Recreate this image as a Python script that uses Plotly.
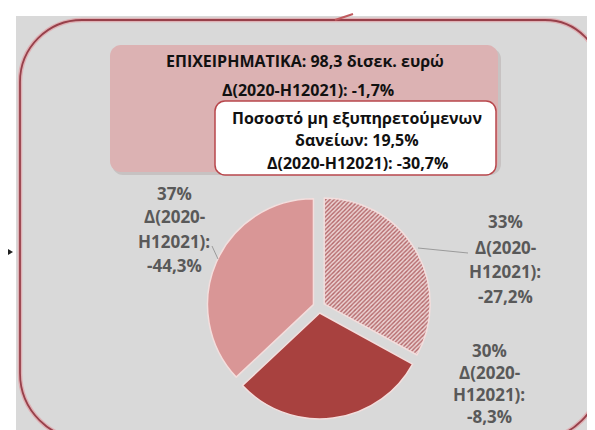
import plotly.graph_objects as go

W, H = 595, 430

# ---- data ----
shares = [33, 30, 37]
deltas = ["-27,2", "-8,3", "-44,3"]
slice_colors = ["#d4a3a4", "#a8413f", "#d99696"]
pattern_shapes = ["/", "", ""]
period_label = "Δ(2020-H12021)"
title_line1 = "ΕΠΙΧΕΙΡΗΜΑΤΙΚΑ: 98,3 δισεκ. ευρώ"
title_delta = "-1,7%"
npl_lines = ["Ποσοστό μη εξυπηρετούμενων", "δανείων: 19,5%"]
npl_delta = "-30,7%"


def px(x):
    return x / W


def py(y):
    return 1 - y / H


def rr_path(x0, y0, x1, y1, rtl, rtr, rbr, rbl):
    k = 0.5523
    def P(x, y):
        return f"{px(x):.5f},{py(y):.5f}"
    s = f"M {P(x0 + rtl, y0)} L {P(x1 - rtr, y0)} "
    s += f"C {P(x1 - rtr + k*rtr, y0)} {P(x1, y0 + rtr - k*rtr)} {P(x1, y0 + rtr)} "
    s += f"L {P(x1, y1 - rbr)} "
    s += f"C {P(x1, y1 - rbr + k*rbr)} {P(x1 - rbr + k*rbr, y1)} {P(x1 - rbr, y1)} "
    s += f"L {P(x0 + rbl, y1)} "
    s += f"C {P(x0 + rbl - k*rbl, y1)} {P(x0, y1 - rbl + k*rbl)} {P(x0, y1 - rbl)} "
    s += f"L {P(x0, y0 + rtl)} "
    s += f"C {P(x0, y0 + rtl - k*rtl)} {P(x0 + rtl - k*rtl, y0)} {P(x0 + rtl, y0)} Z"
    return s


fig = go.Figure()

# pie: centre ~ (311, 299), outer extent incl. pull ~112 px
cx, cy, half = 311, 299, 112
fig.add_trace(go.Pie(
    values=shares,
    sort=False,
    direction="clockwise",
    rotation=0,
    pull=[0.057] * 3,
    textinfo="none",
    hoverinfo="skip",
    showlegend=False,
    domain=dict(x=[px(cx - half), px(cx + half)], y=[py(cy + half), py(cy - half)]),
    marker=dict(
        colors=slice_colors,
        line=dict(color="#f3dedd", width=1.5),
        pattern=dict(
            shape=pattern_shapes,
            fgcolor=["#b4676a", "#a8413f", "#d99696"],
            bgcolor=["#ecd4d4", "#a8413f", "#d99696"],
            size=3,
            solidity=0.45,
            fillmode="replace",
        ),
    ),
))

shapes = []
# grey background
shapes.append(dict(type="rect", xref="paper", yref="paper", x0=px(8), x1=px(W + 2), y0=py(H + 2), y1=py(8),
                   fillcolor="#d9d9d9", line=dict(width=0), layer="below"))
# outer rounded frame (glow + line)
frame = rr_path(12, 12, 593, 432, 62, 56, 66, 67)
shapes.append(dict(type="path", xref="paper", yref="paper", path=frame,
                   line=dict(color="rgba(225,160,165,0.7)", width=4.5), layer="below"))
shapes.append(dict(type="path", xref="paper", yref="paper", path=frame,
                   line=dict(color="#97404a", width=1.8), layer="below"))
# connector stub at top
shapes.append(dict(type="line", xref="paper", yref="paper", x0=px(327), y0=py(12), x1=px(345), y1=py(6),
                   line=dict(color="#c05a5e", width=2), layer="below"))
# small arrowhead at left
shapes.append(dict(type="path", xref="paper", yref="paper",
                   path=f"M {px(0)},{py(241)} L {px(5)},{py(244)} L {px(0)},{py(247)} Z",
                   fillcolor="#202020", line=dict(width=0), layer="below"))
# pink header box (with shadow)
shapes.append(dict(type="path", xref="paper", yref="paper", path=rr_path(104, 40, 493, 167, 11, 11, 11, 11),
                   fillcolor="#c7c2c2", line=dict(width=0), layer="below"))
shapes.append(dict(type="path", xref="paper", yref="paper", path=rr_path(102, 37, 490, 164, 11, 11, 11, 11),
                   fillcolor="#dcb2b3", line=dict(width=0), layer="below"))
# white NPL box
shapes.append(dict(type="path", xref="paper", yref="paper", path=rr_path(207, 93, 488, 167, 10, 10, 10, 10),
                   fillcolor="#ffffff", line=dict(color="#b8474c", width=1.5), layer="below"))
# leader lines
shapes.append(dict(type="line", xref="paper", yref="paper", x0=px(410), y0=py(240), x1=px(460), y1=py(245),
                   line=dict(color="#8a8a8a", width=0.8)))
shapes.append(dict(type="line", xref="paper", yref="paper", x0=px(204), y0=py(238), x1=px(210), y1=py(251),
                   line=dict(color="#8a8a8a", width=0.8)))

FONT = "Open Sans"
ann = []


def text(x, y, t, size=16, color="#111111"):
    ann.append(dict(x=px(x), y=py(y), xref="paper", yref="paper", text=f"<b>{t}</b>", showarrow=False,
                    xanchor="center", yanchor="middle", font=dict(family=FONT, size=size, color=color)))


# header texts
text(297, 53, title_line1)
text(300, 82, f"{period_label}: {title_delta}")
text(349, 110, npl_lines[0])
text(349, 132, npl_lines[1])
text(349, 155, f"{period_label}: {npl_delta}")

# slice labels
label_pos = [(497, [213, 239, 263, 288]), (481, [342, 364, 386, 408]), (166, [185, 209, 233, 257])]
for share, d, (lx, ys) in zip(shares, deltas, label_pos):
    lines = [f"{share}%", "Δ(2020-", "H12021):", f"{d}%"]
    for t, yy in zip(lines, ys):
        text(lx, yy, t, size=17, color="#595959")

fig.update_layout(
    width=W, height=H,
    margin=dict(l=0, r=0, t=0, b=0),
    paper_bgcolor="#ffffff",
    plot_bgcolor="#ffffff",
    shapes=shapes,
    annotations=ann,
    showlegend=False,
)

fig.write_html("out.html")
